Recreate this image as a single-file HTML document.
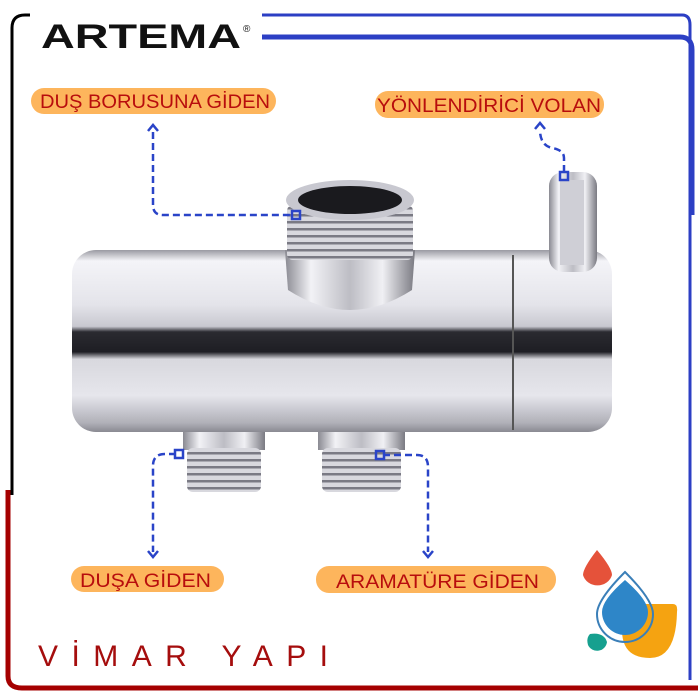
<!DOCTYPE html>
<html><head><meta charset="utf-8"><style>
html,body{margin:0;padding:0;background:#fff;width:700px;height:700px;overflow:hidden}
svg{display:block}
text{font-family:"Liberation Sans",sans-serif}
</style></head><body>
<svg width="700" height="700" viewBox="0 0 700 700" xmlns="http://www.w3.org/2000/svg">
<defs>
<linearGradient id="body" x1="0" y1="0" x2="0" y2="1">
<stop offset="0" stop-color="#9a9aa2"/>
<stop offset="0.06" stop-color="#f4f4f8"/>
<stop offset="0.3" stop-color="#e4e4ea"/>
<stop offset="0.42" stop-color="#c8c8d0"/>
<stop offset="0.45" stop-color="#2a2a30"/>
<stop offset="0.56" stop-color="#1e1e24"/>
<stop offset="0.6" stop-color="#d8d8de"/>
<stop offset="0.8" stop-color="#e6e6ec"/>
<stop offset="0.95" stop-color="#b0b0b8"/>
<stop offset="1" stop-color="#8a8a92"/>
</linearGradient>
<linearGradient id="vert" x1="0" y1="0" x2="1" y2="0">
<stop offset="0" stop-color="#8a8a92"/>
<stop offset="0.2" stop-color="#f2f2f6"/>
<stop offset="0.5" stop-color="#bdbdc4"/>
<stop offset="0.75" stop-color="#f0f0f4"/>
<stop offset="1" stop-color="#7a7a82"/>
</linearGradient>
<pattern id="thread" width="10" height="7" patternUnits="userSpaceOnUse">
<rect width="10" height="7" fill="#d8d8de"/><rect y="4" width="10" height="2.5" fill="#7a7a84"/>
</pattern>
</defs>

<path d="M12,495 V28 Q12,15 25,15 H262" fill="none" stroke="#000" stroke-width="3"/>
<path d="M262,15 H682 Q690,15 690,25 V680" fill="none" stroke="#2c3fc4" stroke-width="3"/>
<path d="M262,37 H680 Q692,37 692,50 V215" fill="none" stroke="#2c3fc4" stroke-width="5"/>
<path d="M8,490 V676 Q8,688 22,688 H698" fill="none" stroke="#a50000" stroke-width="5"/>

<rect x="30" y="12" width="232" height="62" fill="#fff"/>
<text x="41" y="48" font-size="34" font-weight="bold" textLength="200" lengthAdjust="spacingAndGlyphs" fill="#111">ARTEMA</text>
<text x="243" y="32" font-size="10" fill="#111">®</text>

<g font-size="19" fill="#b80d0d">
<rect x="31" y="88" width="245" height="26" rx="13" fill="#fdb55c"/>
<text x="40" y="108" textLength="230" lengthAdjust="spacingAndGlyphs">DUŞ BORUSUNA GİDEN</text>
<rect x="375" y="91" width="229" height="27" rx="13" fill="#fdb55c"/>
<text x="377" y="112" textLength="224" lengthAdjust="spacingAndGlyphs">YÖNLENDİRİCİ VOLAN</text>
<rect x="71" y="566" width="153" height="26" rx="13" fill="#fdb55c"/>
<text x="80" y="587" textLength="131" lengthAdjust="spacingAndGlyphs">DUŞA GİDEN</text>
<rect x="316" y="566" width="240" height="27" rx="13" fill="#fdb55c"/>
<text x="336" y="588" textLength="203" lengthAdjust="spacingAndGlyphs">ARAMATÜRE GİDEN</text>
</g>

<rect x="183" y="420" width="82" height="30" fill="url(#vert)"/>
<rect x="187" y="448" width="74" height="44" rx="6" fill="url(#thread)"/>
<rect x="318" y="420" width="87" height="30" fill="url(#vert)"/>
<rect x="322" y="448" width="79" height="44" rx="6" fill="url(#thread)"/>
<rect x="72" y="250" width="540" height="182" rx="24" fill="url(#body)"/>
<line x1="513" y1="255" x2="513" y2="430" stroke="#555" stroke-width="2"/>
<path d="M285,250 L288,290 Q350,330 412,290 L415,250 Z" fill="url(#vert)"/>
<rect x="287" y="205" width="126" height="55" rx="6" fill="url(#thread)"/>
<ellipse cx="350" cy="200" rx="64" ry="20" fill="#c8c8d0"/>
<ellipse cx="350" cy="200" rx="52" ry="14" fill="#1a1a1e"/>
<rect x="549" y="172" width="48" height="100" rx="14" fill="url(#vert)"/>
<rect x="560" y="180" width="24" height="85" fill="#cfcfd6"/>

<g fill="none" stroke="#2a44c8" stroke-width="2.5" stroke-dasharray="7,4">
<path d="M153,132 V205 Q153,215 163,215 H292"/>
<path d="M564,172 V158 Q564,150 552,148 Q540,145 540,130"/>
<path d="M176,454 H165 Q153,454 153,466 V552"/>
<path d="M383,455 H417 Q428,455 428,467 V552"/>
</g>
<g fill="none" stroke="#2a44c8" stroke-width="2.5">
<path d="M148,131 L153,125 L158,131"/>
<path d="M535,129 L540,123 L545,129"/>
<path d="M148,551 L153,557 L158,551"/>
<path d="M423,551 L428,557 L433,551"/>
<rect x="292" y="211" width="8" height="8"/>
<rect x="560" y="172" width="8" height="8"/>
<rect x="175" y="450" width="8" height="8"/>
<rect x="376" y="451" width="8" height="8"/>
</g>

<path d="M597,550 Q612,568 612,575 A15,14 0 0 1 583,575 Q583,568 597,550Z" fill="#e5523a"/>
<path d="M640,604 H673 Q678,604 677,612 Q676,658 650,658 Q622,658 622,630 Q624,610 640,604Z" fill="#f5a311"/>
<path d="M625,572 Q653,600 653,614 A28,28 0 0 1 597,614 Q597,600 625,572Z" fill="none" stroke="#3b7fb8" stroke-width="2"/>
<path d="M625,580 Q648,600 648,612 A23,23 0 0 1 602,612 Q602,600 625,580Z" fill="#2e86c8"/>
<path d="M590,634 Q604,632 607,642 A10,10 0 0 1 588,645 Q586,638 590,634Z" fill="#16a08f"/>

<text x="38" y="666" font-size="30" fill="#a50d0d" textLength="290" lengthAdjust="spacing">VİMAR YAPI</text>
</svg>
</body></html>
